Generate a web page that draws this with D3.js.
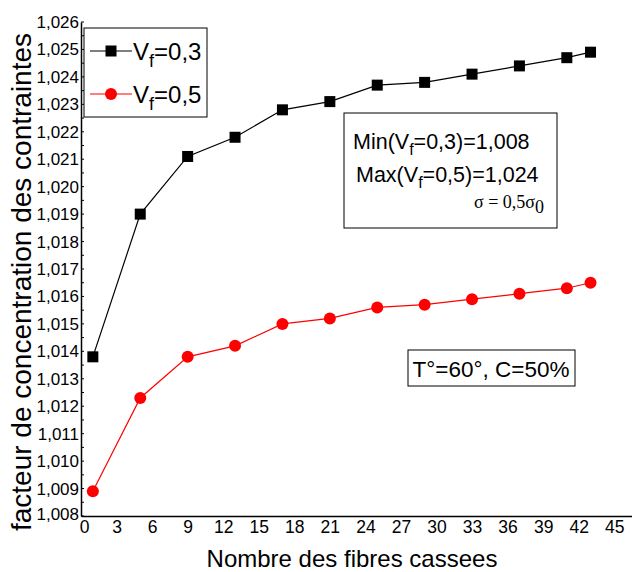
<!DOCTYPE html>
<html>
<head>
<meta charset="utf-8">
<script src="https://cdn.jsdelivr.net/npm/d3@7"></script>
<style>
  body { margin: 0; background: #fff; }
  svg { display: block; }
  .narrow { font-family: "Liberation Sans Narrow", "Arial Narrow", "Liberation Sans", sans-serif; }
  .sans { font-family: "Liberation Sans", Arial, sans-serif; }
</style>
</head>
<body>
<div id="vis"></div>
<script>
// data
const FIBRES = [1, 5, 9, 13, 17, 21, 25, 29, 33, 37, 41, 43];
const VF03 = [1.0138, 1.0190, 1.0211, 1.0218, 1.0228, 1.0231, 1.0237, 1.0238, 1.0241, 1.0244, 1.0247, 1.0249];
const VF05 = [1.0089, 1.0123, 1.0138, 1.0142, 1.0150, 1.0152, 1.0156, 1.0157, 1.0159, 1.0161, 1.0163, 1.0165];
const X_TICKS = d3.range(0, 46, 3);
const Y_TICKS = d3.range(1008, 1027).map(d => d / 1000);

const FRAME_WIDTH = 632;
const FRAME_HEIGHT = 572;
const MARGINS = {left: 81, right: 0, top: 22, bottom: 56};

const FRAME = d3.select("#vis")
    .append("svg")
    .attr("width", FRAME_WIDTH)
    .attr("height", FRAME_HEIGHT);

const X_SCALE = d3.scaleLinear()
    .domain([0, 46.5])
    .range([MARGINS.left, FRAME_WIDTH - MARGINS.right]);
const Y_SCALE = d3.scaleLinear()
    .domain([1.008, 1.026])
    .range([FRAME_HEIGHT - MARGINS.bottom, MARGINS.top]);

const fmt = d => d3.format(".3f")(d).replace(".", ",");

// x axis
const xAxis = FRAME.append("g")
    .attr("transform", "translate(0," + Y_SCALE(1.008) + ")")
    .call(d3.axisBottom(X_SCALE).tickValues(X_TICKS).tickSize(0).tickPadding(5).tickFormat(d3.format("d")));
xAxis.select(".domain").attr("stroke-width", 1.5);
xAxis.selectAll("text").attr("class", "narrow").attr("font-size", 17.5).attr("fill", "#000");
// nudge the 0 label so it clears the 1,008 label
xAxis.selectAll(".tick text").filter(d => d === 0).attr("dx", 3);

// y axis
const yAxis = FRAME.append("g")
    .attr("transform", "translate(" + X_SCALE(0) + ",0)")
    .call(d3.axisLeft(Y_SCALE).tickValues(Y_TICKS).tickSize(0).tickPadding(2).tickFormat(fmt));
yAxis.select(".domain").attr("stroke-width", 1.5);
yAxis.selectAll("text").attr("class", "narrow").attr("font-size", 17).attr("fill", "#000");
yAxis.selectAll(".tick text").filter(d => d === 1.008).attr("dy", "0.2em");

// small inner ticks on y axis
FRAME.append("g").selectAll("line")
    .data(d3.range(1008, 1026.01, 0.5).map(d => d / 1000))
    .enter()
    .append("line")
    .attr("x1", X_SCALE(0))
    .attr("x2", X_SCALE(0) + 3)
    .attr("y1", d => Y_SCALE(d))
    .attr("y2", d => Y_SCALE(d))
    .attr("stroke", "#000");

// axis titles
FRAME.append("text")
    .attr("class", "sans")
    .attr("x", 352)
    .attr("y", 567)
    .attr("text-anchor", "middle")
    .attr("font-size", 24)
    .text("Nombre des fibres cassees");

FRAME.append("text")
    .attr("class", "sans")
    .attr("transform", "translate(31,282) rotate(-90)")
    .attr("text-anchor", "middle")
    .attr("font-size", 28)
    .text("facteur de concentration des contraintes");

// series
const SERIES = [
    {values: VF03, color: "#000", shape: "square"},
    {values: VF05, color: "#ff0000", shape: "circle"}
];

const line = d3.line()
    .x(d => X_SCALE(d[0]))
    .y(d => Y_SCALE(d[1]));

SERIES.forEach(s => {
    const pts = FIBRES.map((f, i) => [f, s.values[i]]);
    FRAME.append("path")
        .datum(pts)
        .attr("d", line)
        .attr("fill", "none")
        .attr("stroke", s.color)
        .attr("stroke-width", 1.2);
    if (s.shape === "square") {
        FRAME.selectAll(null)
            .data(pts)
            .enter()
            .append("rect")
            .attr("x", d => X_SCALE(d[0]) - 5.5)
            .attr("y", d => Y_SCALE(d[1]) - 5.5)
            .attr("width", 11)
            .attr("height", 11)
            .attr("fill", s.color);
    } else {
        FRAME.selectAll(null)
            .data(pts)
            .enter()
            .append("circle")
            .attr("cx", d => X_SCALE(d[0]))
            .attr("cy", d => Y_SCALE(d[1]))
            .attr("r", 6)
            .attr("fill", s.color);
    }
});

// legend
const LEG = FRAME.append("g");
LEG.append("rect")
    .attr("x", 84).attr("y", 28).attr("width", 123).attr("height", 89)
    .attr("fill", "#fff").attr("stroke", "#000").attr("stroke-width", 1);
[["0,3", 51, SERIES[0]], ["0,5", 94, SERIES[1]]].forEach(([lab, y, s]) => {
    LEG.append("line")
        .attr("x1", 90).attr("x2", 132).attr("y1", y).attr("y2", y)
        .attr("stroke", s.color).attr("stroke-width", 1.2);
    if (s.shape === "square") {
        LEG.append("rect").attr("x", 105.5).attr("y", y - 5.5).attr("width", 11).attr("height", 11).attr("fill", s.color);
    } else {
        LEG.append("circle").attr("cx", 111).attr("cy", y).attr("r", 6).attr("fill", s.color);
    }
    const t = LEG.append("text").attr("class", "sans").attr("x", 133).attr("y", y + 9).attr("font-size", 24);
    t.append("tspan").text("V");
    t.append("tspan").attr("dy", 7).attr("font-size", 18).text("f");
    t.append("tspan").attr("dy", -7).text("=" + lab);
});

// annotation box: min / max
const ANN = FRAME.append("g");
ANN.append("rect")
    .attr("x", 344).attr("y", 113).attr("width", 213).attr("height", 115)
    .attr("fill", "none").attr("stroke", "#000").attr("stroke-width", 1);
[["Min(V", "=0,3)=1,008", 353, 149], ["Max(V", "=0,5)=1,024", 356, 182]].forEach(([a, b, x, y]) => {
    const t = ANN.append("text").attr("class", "sans").attr("x", x).attr("y", y)
        .attr("font-size", 21.5);
    t.append("tspan").text(a);
    t.append("tspan").attr("dy", 6).attr("font-size", 16).text("f");
    t.append("tspan").attr("dy", -6).text(b);
});
ANN.append("text")
    .attr("x", 535).attr("y", 208)
    .attr("text-anchor", "end")
    .attr("font-family", "'Liberation Serif', 'Times New Roman', serif")
    .attr("font-size", 18)
    .text("\u03c3 = 0,5\u03c3");
ANN.append("text")
    .attr("x", 535).attr("y", 213)
    .attr("font-family", "'Liberation Serif', 'Times New Roman', serif")
    .attr("font-size", 18)
    .text("0");

// annotation box: conditions
ANN.append("rect")
    .attr("x", 408).attr("y", 350).attr("width", 167).attr("height", 36)
    .attr("fill", "none").attr("stroke", "#000").attr("stroke-width", 1);
ANN.append("text")
    .attr("class", "sans")
    .attr("x", 491).attr("y", 377)
    .attr("text-anchor", "middle")
    .attr("font-size", 22.5)
    .text("T\u00b0=60\u00b0, C=50%");
</script>
</body>
</html>
